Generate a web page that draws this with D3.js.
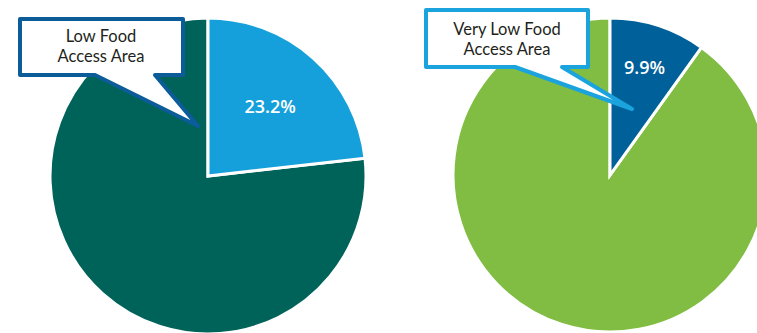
<!DOCTYPE html>
<html>
<head>
<meta charset="utf-8">
<script src="https://cdn.jsdelivr.net/npm/d3@7"></script>
<style>
  html, body { margin: 0; padding: 0; background: #fff; overflow: hidden; }
  svg { display: block; }
</style>
</head>
<body>
<svg id="chart" width="757" height="333"></svg>
<script>
// ---- Data ----
const categoriesLeft = ["Low Food Access Area", "Other"];
const valuesLeft = [23.2, 76.8];
const categoriesRight = ["Very Low Food Access Area", "Other"];
const valuesRight = [9.9, 90.1];
const labelsLeft = ["23.2%", ""];
const labelsRight = ["9.9%", ""];
const calloutLeft = ["Low Food", "Access Area"];
const calloutRight = ["Very Low Food", "Access Area"];

// ---- Styles ----
const colorsLeft = ["#15a0db", "#00635a"];
const colorsRight = ["#00609a", "#80bd42"];
const font = "'Open Sans', 'Liberation Sans', sans-serif";
const calloutFont = "Lato, 'Open Sans', sans-serif";

const svg = d3.select("#chart");

function drawPie(cx, cy, r, values, colors, labels, labelRatio) {
  const pie = d3.pie().sort(null).value(d => d);
  const arc = d3.arc().innerRadius(0).outerRadius(r);
  const labelArc = d3.arc().innerRadius(r * labelRatio).outerRadius(r * labelRatio);
  const g = svg.append("g").attr("transform", `translate(${cx},${cy})`);
  const arcs = pie(values);
  const order = arcs.slice().reverse();
  g.selectAll("path").data(order).enter().append("path")
    .attr("d", arc)
    .attr("fill", d => colors[d.index])
    .attr("stroke", "#fff")
    .attr("stroke-width", 3)
    .attr("stroke-linejoin", "miter");
  g.selectAll("text").data(arcs).enter().append("text")
    .attr("transform", d => `translate(${labelArc.centroid(d)})`)
    .attr("text-anchor", "middle")
    .attr("dy", "0.35em")
    .attr("fill", "#fff")
    .attr("font-family", font)
    .attr("font-size", 18)
    .attr("font-weight", 600)
    .text((d, i) => labels[i]);
}

function drawCallout(x0, y0, x1, y1, bx0, bx1, tx, ty, color, lines, textX, baseY) {
  const p = d3.path();
  p.moveTo(x0, y0);
  p.lineTo(x1, y0);
  p.lineTo(x1, y1);
  p.lineTo(bx1, y1);
  p.lineTo(tx, ty);
  p.lineTo(bx0, y1);
  p.lineTo(x0, y1);
  p.closePath();
  svg.append("path")
    .attr("d", p.toString())
    .attr("fill", "#fff")
    .attr("stroke", color)
    .attr("stroke-width", 4)
    .attr("stroke-linejoin", "round");
  lines.forEach((l, i) => {
    svg.append("text")
      .attr("font-family", calloutFont)
      .attr("font-size", 16.5)
      .attr("fill", "#231f20")
      .attr("text-anchor", "middle")
      .attr("x", textX)
      .attr("y", baseY + i * 19.9)
      .text(l);
  });
}

drawPie(208, 176, 158, valuesLeft, colorsLeft, labelsLeft, 0.59);
drawPie(610, 175, 157, valuesRight, colorsRight, labelsRight, 0.72);

drawCallout(20, 19, 183, 75, 95, 155, 198, 126, "#0b5c99", calloutLeft, 101, 41.6);
drawCallout(426, 10, 588, 67, 515, 562, 632, 109, "#1aa3dc", calloutRight, 507, 34.6);
</script>
</body>
</html>
